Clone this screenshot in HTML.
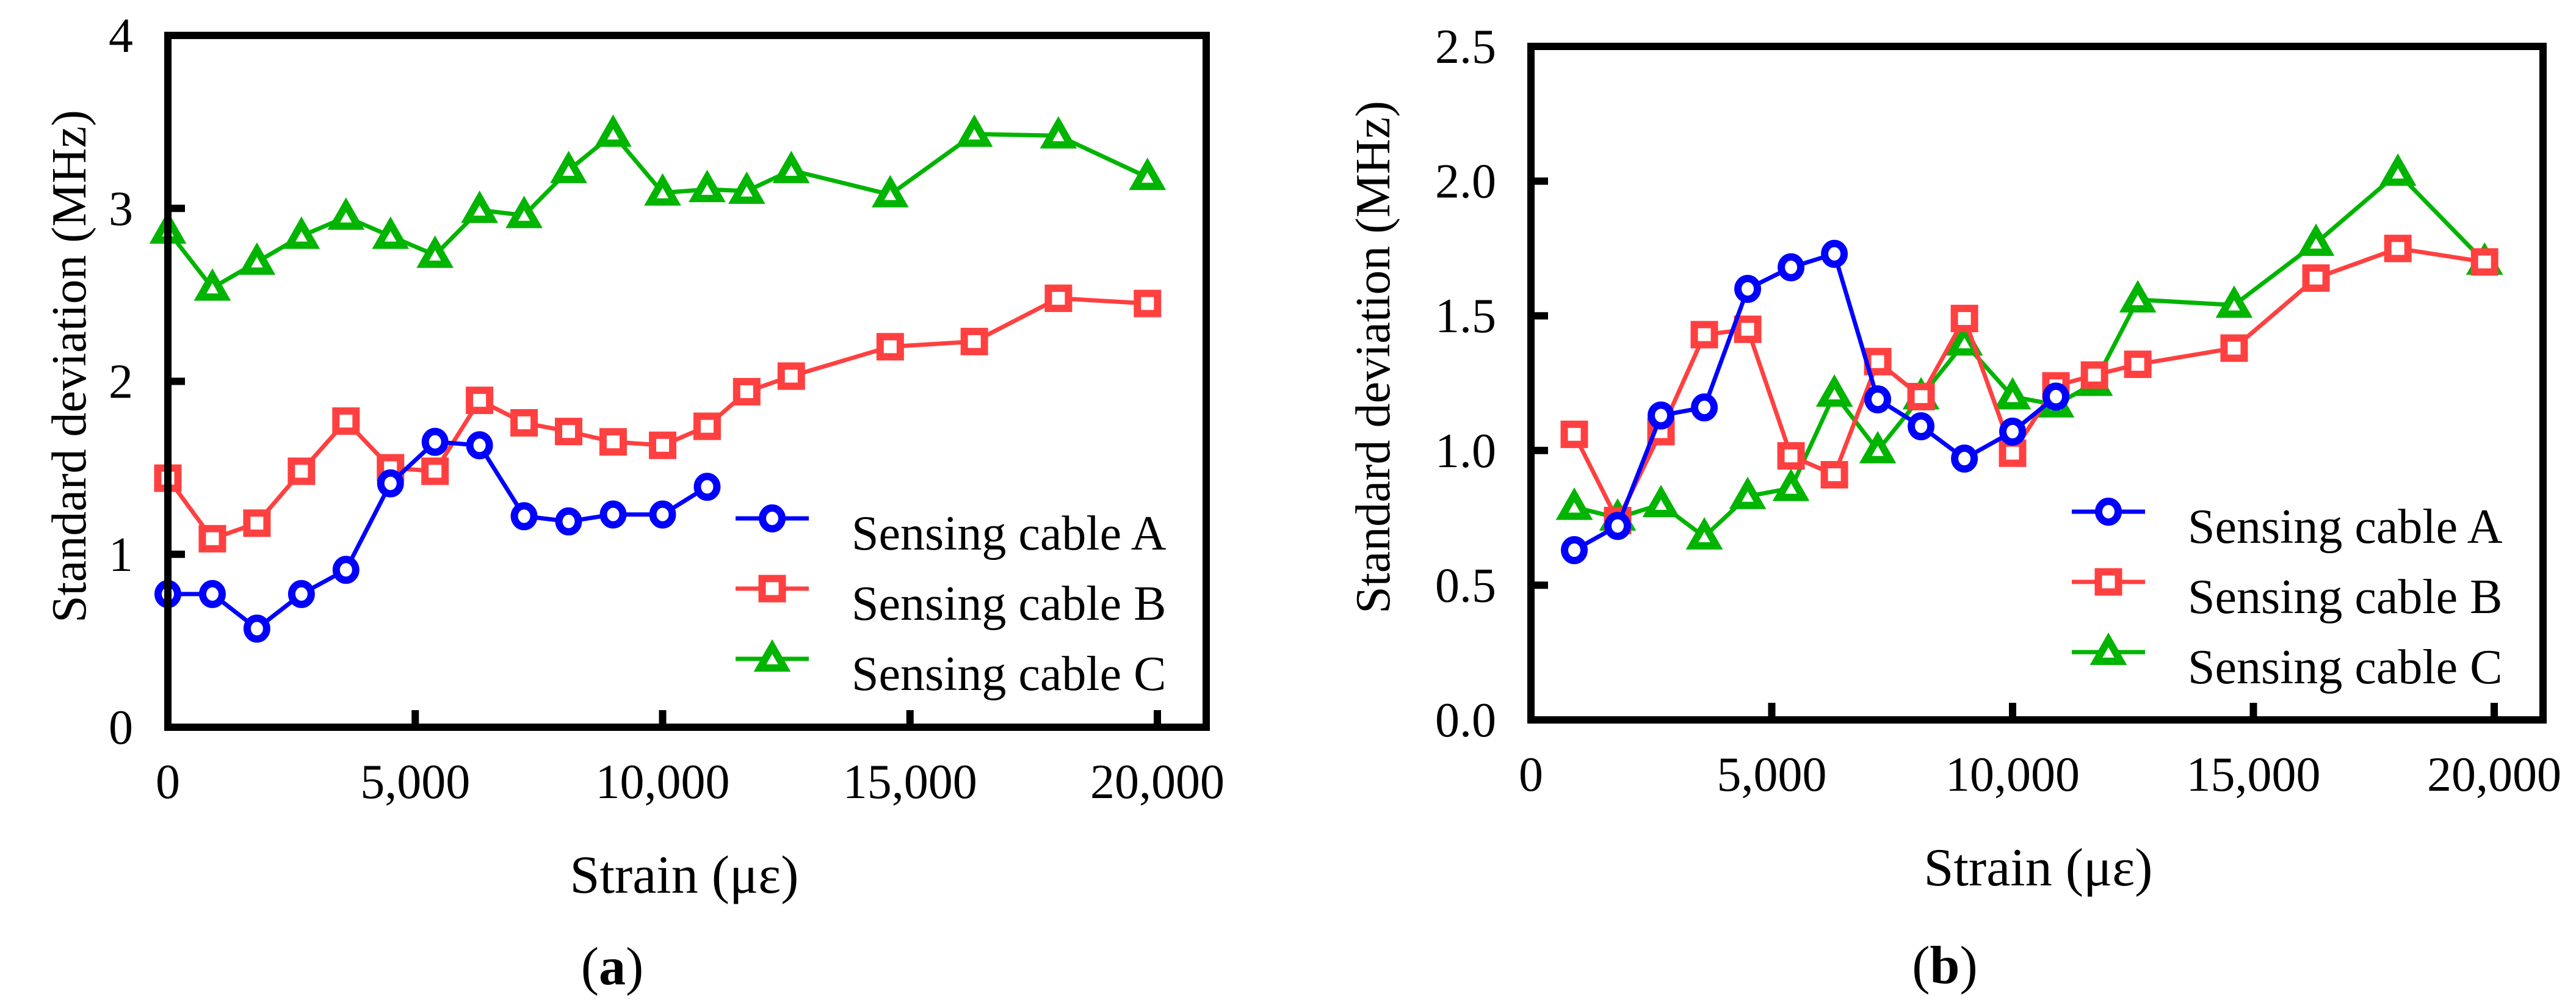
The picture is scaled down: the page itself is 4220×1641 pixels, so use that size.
<!DOCTYPE html>
<html><head><meta charset="utf-8"><style>
html,body{margin:0;padding:0;background:#fff;}
svg{display:block;}
text{font-family:"Liberation Serif","DejaVu Serif","Noto Serif CJK SC",serif;}
</style></head><body>
<svg id="svg" width="4220" height="1641" viewBox="0 0 4220 1641" xmlns="http://www.w3.org/2000/svg"></svg>
<script>
// ---- Panel (a) data ----
const strainA_a = [0,900,1800,2700,3600,4500,5400,6300,7200,8100,9000,10000,10900];
const valuesA_a = [0.77,0.77,0.57,0.77,0.91,1.41,1.65,1.63,1.22,1.19,1.23,1.23,1.39];
const strainBC_a = [0,900,1800,2700,3600,4500,5400,6300,7200,8100,9000,10000,10900,11700,12600,14600,16300,18000,19800];
const valuesB_a = [1.44,1.09,1.18,1.48,1.77,1.50,1.48,1.89,1.76,1.71,1.65,1.63,1.74,1.94,2.03,2.20,2.23,2.48,2.45];
const valuesC_a = [2.87,2.54,2.69,2.84,2.95,2.84,2.73,2.99,2.96,3.22,3.43,3.09,3.11,3.10,3.22,3.08,3.43,3.42,3.18];
const yTicks_a = [0,1,2,3,4];
const yTickLabels_a = ["0","1","2","3","4"];
// ---- Panel (b) data ----
const strainA_b = [900,1800,2700,3600,4500,5400,6300,7200,8100,9000,10000,10900];
const valuesA_b = [0.63,0.72,1.13,1.16,1.60,1.68,1.73,1.19,1.09,0.97,1.07,1.20];
const strainBC_b = [900,1800,2700,3600,4500,5400,6300,7200,8100,9000,10000,10900,11700,12600,14600,16300,18000,19800];
const valuesB_b = [1.06,0.74,1.07,1.43,1.45,0.98,0.91,1.33,1.20,1.49,0.99,1.24,1.28,1.32,1.38,1.64,1.75,1.70];
const valuesC_b = [0.79,0.75,0.80,0.68,0.83,0.86,1.21,1.00,1.20,1.40,1.20,1.17,1.25,1.56,1.54,1.77,2.03,1.70];
const yTicks_b = [0,0.5,1.0,1.5,2.0,2.5];
const yTickLabels_b = ["0.0","0.5","1.0","1.5","2.0","2.5"];
const xTicks = [0,5000,10000,15000,20000];
const xTickLabels = ["0","5,000","10,000","15,000","20,000"];
const seriesNames = ["Sensing cable A","Sensing cable B","Sensing cable C"];

const NS="http://www.w3.org/2000/svg";
const FONT='"Liberation Serif", "DejaVu Serif", "Noto Serif CJK SC", serif';
const svg=document.getElementById('svg');
const COL={A:"#0000ff",B:"#ff4040",C:"#00b400"};
function mk(tag,attrs,parent){const e=document.createElementNS(NS,tag);for(const k in attrs)e.setAttribute(k,attrs[k]);if(tag==='text'){e.setAttribute('font-family',FONT);e.style.fontFamily=FONT;}(parent||svg).appendChild(e);return e;}

function panel(cfg){
  const g=mk('g',{});
  
  
  const X=v=>cfg.x0+v*cfg.xs;
  const Y=v=>cfg.y0-v*cfg.ys;
  function series(xs,ys,col,marker,name){
    const sg=mk('g',{},g);
    
    
    const pts=xs.map((x,i)=>X(x).toFixed(1)+','+Y(ys[i]).toFixed(1)).join(' ');
    const pl=mk('polyline',{points:pts,fill:'none',stroke:col,'stroke-width':7,'stroke-linejoin':'round'},sg);
    
    
    xs.forEach((x,i)=>{const m=drawMarker(sg,marker,X(x),Y(ys[i]),col);
      
      });
  }
  series(cfg.bx,cfg.vc,COL.C,'tri',cfg.id+'-series-c');
  series(cfg.bx,cfg.vb,COL.B,'sq',cfg.id+'-series-b');
  series(cfg.ax,cfg.va,COL.A,'circ',cfg.id+'-series-a');
  const fr=mk('rect',{x:cfg.x0,y:cfg.top,width:cfg.right-cfg.x0,height:cfg.y0-cfg.top,fill:'none',stroke:'#000','stroke-width':12},g);
  
  
  xTicks.forEach((t,i)=>{
    if(t>0){const l=mk('line',{x1:X(t),x2:X(t),y1:cfg.y0,y2:cfg.y0-28,stroke:'#000','stroke-width':12},g);
      
      }
    const tx=mk('text',{x:X(t),y:cfg.y0+116,'font-size':80,'text-anchor':'middle'},g);
    tx.textContent=xTickLabels[i];
    
    
  });
  cfg.yt.forEach((t,i)=>{
    if(t>0&&i<cfg.yt.length-1){const l=mk('line',{x1:cfg.x0,x2:cfg.x0+28,y1:Y(t),y2:Y(t),stroke:'#000','stroke-width':12},g);
      
      }
    const tx=mk('text',{x:cfg.x0-57,y:Y(t)+27,'font-size':80,'text-anchor':'end'},g);
    tx.textContent=cfg.ytl[i];
    
    
  });
  const yt=mk('text',{x:0,y:0,'font-size':80,'text-anchor':'middle',transform:`translate(${cfg.ytx},${cfg.yty}) rotate(-90)`},g);
  yt.textContent='Standard deviation (MHz)';
  
  
  const xt=mk('text',{x:cfg.xtx,y:cfg.xty,'font-size':88,'text-anchor':'middle'},g);
  xt.textContent='Strain (\u03bc\u03b5)';
  
  
  const cap=mk('text',{x:cfg.capx,y:cfg.capy,'font-size':88,'text-anchor':'middle'},g);
  cap.appendChild(document.createTextNode('('));
  const b=mk('tspan',{'font-weight':'bold'},cap);
  b.textContent=cfg.id;
  cap.appendChild(document.createTextNode(')'));
  
  
  const cols=[COL.A,COL.B,COL.C],mks=['circ','sq','tri'];
  seriesNames.forEach((n,i)=>{
    const ly=cfg.ly+i*115;
    const lg=mk('g',{},g);
    
    
    mk('line',{x1:cfg.lx,x2:cfg.lx+120,y1:ly,y2:ly,stroke:cols[i],'stroke-width':7},lg);
    drawMarker(lg,mks[i],cfg.lx+60,ly,cols[i]);
    const t=mk('text',{x:cfg.lx+190,y:ly+51,'font-size':80},lg);
    t.textContent=n;
  });
}
function drawMarker(p,type,x,y,col){
  if(type==='circ')return mk('ellipse',{cx:x,cy:y,rx:16,ry:17,fill:'#fff',stroke:col,'stroke-width':12},p);
  if(type==='sq')return mk('rect',{x:x-16.5,y:y-16.5,width:33,height:33,fill:'#fff',stroke:col,'stroke-width':12},p);
  return mk('polygon',{points:`${x},${y-20} ${x+20},${y+15} ${x-20},${y+15}`,fill:'#fff',stroke:col,'stroke-width':12,'stroke-linejoin':'miter'},p);
}
panel({id:'a',x0:275,right:1976,xs:1621/20000,y0:1191,top:58,ys:1133/4,
  ax:strainA_a,va:valuesA_a,bx:strainBC_a,vb:valuesB_a,vc:valuesC_a,yt:yTicks_a,ytl:yTickLabels_a,
  ytx:140,yty:600,xtx:1121,xty:1462,capx:1003,capy:1612,lx:1205,ly:849});
panel({id:'b',x0:2508,right:4166,xs:1578/20000,y0:1179,top:76,ys:1103/2.5,
  ax:strainA_b,va:valuesA_b,bx:strainBC_b,vb:valuesB_b,vc:valuesC_b,yt:yTicks_b,ytl:yTickLabels_b,
  ytx:2276,yty:585,xtx:3339,xty:1450,capx:3186,capy:1610,lx:3394,ly:838});
</script>
</body></html>
